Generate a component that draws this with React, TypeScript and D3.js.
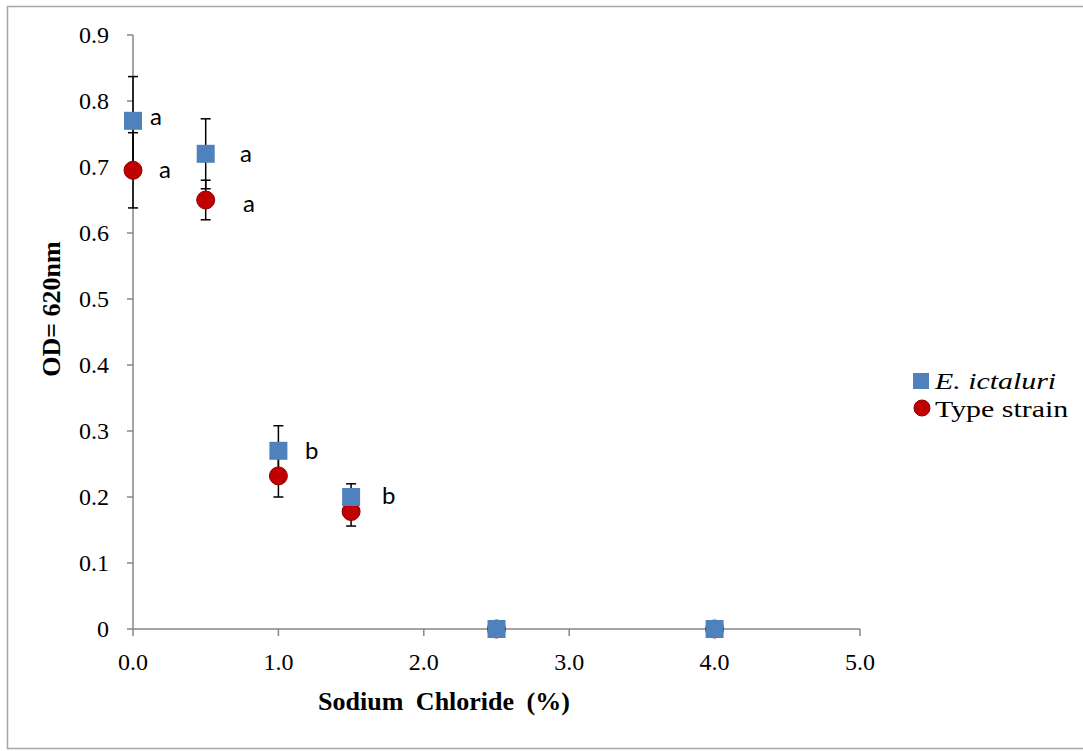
import * as d3 from 'd3';

// Sodium chloride concentrations (%)
const ictaluriX = [0.0, 0.5, 1.0, 1.5, 2.5, 4.0];
const ictaluriY = [0.77, 0.72, 0.27, 0.2, 0, 0];
const ictaluriErr = [0.067, 0.053, 0.038, 0.02, 0, 0];

const typeX = [0.0, 0.5, 1.0, 1.5, 2.5, 4.0];
const typeY = [0.695, 0.65, 0.232, 0.178, 0, 0];
const typeErr = [0.057, 0.03, 0.032, 0.022, 0, 0];

const xTicks = [0, 1, 2, 3, 4, 5];
const yTicks = [0, 0.1, 0.2, 0.3, 0.4, 0.5, 0.6, 0.7, 0.8, 0.9];

// significance letters
const letters = ['a', 'a', 'a', 'a', 'b', 'b'];
const letterX = [0.117, 0.179, 0.736, 0.757, 1.183, 1.713];
const letterY = [0.774, 0.695, 0.718, 0.642, 0.268, 0.2];

const W = 1083;
const H = 751;
const BLUE = '#4F81BD';
const RED = '#C00000';
const AXIS = '#868686';
const SERIF = '"Liberation Serif", "Times New Roman", serif';

export default function App() {
  const x = d3.scaleLinear().domain([0, 5]).range([133, 860]);
  const y = d3.scaleLinear().domain([0, 0.9]).range([629, 35]);
  const sq = 18;
  const cap = 5;

  const errBar = (cx: number, v: number, e: number, key: string) => {
    if (!e) return null;
    const px = x(cx);
    return (
      <g key={key} stroke="#000" strokeWidth={1.5}>
        <line x1={px} x2={px} y1={y(v - e)} y2={y(v + e)} />
        <line x1={px - cap} x2={px + cap} y1={y(v - e)} y2={y(v - e)} />
        <line x1={px - cap} x2={px + cap} y1={y(v + e)} y2={y(v + e)} />
      </g>
    );
  };

  return (
    <svg width={W} height={H} style={{ position: 'absolute', left: 0, top: 0, background: '#fff' }}>
      <rect x={7.5} y={6.5} width={W} height={742} fill="#fff" stroke="#a6a6a6" strokeWidth={1.5} />

      {/* axes */}
      <line x1={x(0)} x2={x(0)} y1={y(0)} y2={y(0.9)} stroke={AXIS} strokeWidth={1.5} />
      <line x1={x(0)} x2={x(5)} y1={y(0)} y2={y(0)} stroke={AXIS} strokeWidth={1.5} />
      {yTicks.map(t => (
        <g key={'y' + t}>
          <line x1={x(0) - 6} x2={x(0)} y1={y(t)} y2={y(t)} stroke={AXIS} strokeWidth={1.5} />
          <text x={109} y={y(t)} dy="0.35em" textAnchor="end" fontFamily={SERIF} fontSize={24} fill="#000">
            {t === 0 ? '0' : t.toFixed(1)}
          </text>
        </g>
      ))}
      {xTicks.map(t => (
        <g key={'x' + t}>
          <line x1={x(t)} x2={x(t)} y1={y(0)} y2={y(0) + 7} stroke={AXIS} strokeWidth={1.5} />
          <text x={x(t)} y={670} textAnchor="middle" fontFamily={SERIF} fontSize={24} fill="#000">
            {t.toFixed(1)}
          </text>
        </g>
      ))}

      <text x={444} y={710} textAnchor="middle" fontFamily={SERIF} fontSize={26} fontWeight="bold" wordSpacing={6}>
        Sodium Chloride (%)
      </text>
      <text transform="translate(60,309) rotate(-90)" textAnchor="middle" fontFamily={SERIF} fontSize={26} fontWeight="bold">
        OD= 620nm
      </text>

      {/* error bars */}
      {typeX.map((v, i) => errBar(v, typeY[i], typeErr[i], 't' + i))}
      {ictaluriX.map((v, i) => errBar(v, ictaluriY[i], ictaluriErr[i], 'e' + i))}

      {/* Type strain circles */}
      {typeX.map((v, i) => (
        <circle key={'c' + i} cx={x(v)} cy={y(typeY[i])} r={9} fill={RED} stroke="#8B0000" strokeWidth={1} />
      ))}
      {/* E. ictaluri squares */}
      {ictaluriX.map((v, i) => (
        <rect key={'s' + i} x={x(v) - sq / 2} y={y(ictaluriY[i]) - sq / 2} width={sq} height={sq} fill={BLUE} />
      ))}

      {letters.map((l, i) => (
        <text key={'l' + i} x={x(letterX[i])} y={y(letterY[i])} dy="0.3em" fontFamily="Lato, sans-serif" fontSize={24} fill="#000">
          {l}
        </text>
      ))}

      {/* legend */}
      <rect x={913} y={373} width={16} height={16} fill={BLUE} />
      <text transform="translate(935,381) scale(1.3,1)" dy="0.35em" fontFamily={SERIF} fontSize={23} fontStyle="italic">E. ictaluri</text>
      <circle cx={922} cy={408} r={8} fill={RED} stroke="#8B0000" strokeWidth={1} />
      <text transform="translate(935,409) scale(1.3,1)" dy="0.35em" fontFamily={SERIF} fontSize={23}>Type strain</text>
    </svg>
  );
}
